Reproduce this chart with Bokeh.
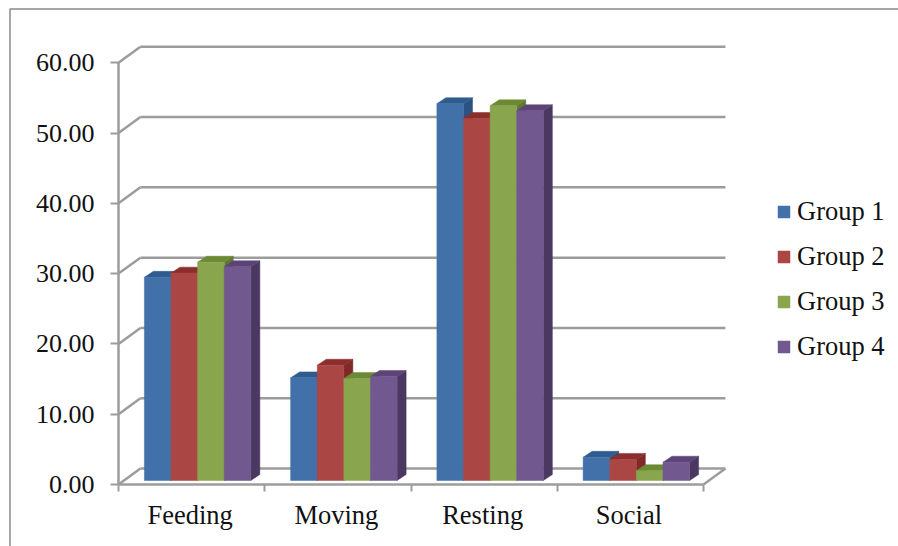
from bokeh.plotting import figure
from bokeh.models import Range1d, FixedTicker, NumeralTickFormatter, Legend, LegendItem
from bokeh.embed import file_html
from bokeh.resources import INLINE

categories = ["Feeding", "Moving", "Resting", "Social"]
group_names = ["Group 1", "Group 2", "Group 3", "Group 4"]
group_1 = [28.9, 14.6, 53.6, 3.3]
group_2 = [29.5, 16.4, 51.5, 3.0]
group_3 = [31.05, 14.5, 53.3, 1.4]
group_4 = [30.4, 14.8, 52.6, 2.6]
y_ticks = [0, 10, 20, 30, 40, 50, 60]

series = [group_1, group_2, group_3, group_4]
front = ["#4270A8", "#AA4643", "#89A54E", "#71588F"]
top = ["#2F5C8F", "#8C2F2C", "#6C8A34", "#5C4478"]
side = ["#2B5280", "#7F2A28", "#5F7A2E", "#4A3860"]
GREY = "#9C9C9C"
FONT = "Liberation Serif"

# projection of the chart's depth, in data units
WALL_DX, WALL_DY = 0.15, 2.27
BAR_DX, BAR_DY = 0.0615, 0.85
BASE_Y = 0.57
BAR_W = 0.182
FIRST = 0.177

W, H = 898, 546
ORIGIN_X, ORIGIN_Y = 118, 484   # where the axes cross, in page pixels
PX_X, PX_Y = 146.25, 7.03       # pixels per category / per unit
x_lo, x_hi = -ORIGIN_X / PX_X, (W - ORIGIN_X) / PX_X
y_lo, y_hi = (ORIGIN_Y - H) / PX_Y, ORIGIN_Y / PX_Y
p = figure(width=W, height=H, output_backend="svg", toolbar_location=None,
           x_range=Range1d(x_lo, x_hi), y_range=Range1d(y_lo, y_hi),
           min_border_left=0, min_border_right=0, min_border_top=0, min_border_bottom=0)
p.outline_line_color = None
p.grid.visible = False

# Outer frame of the picture (top and left only)
border_x = (9.5 - ORIGIN_X) / PX_X
border_y = (ORIGIN_Y - 8.5) / PX_Y
p.line(x=[border_x, border_x, x_hi], y=[y_lo, border_y, border_y],
       line_color="#8A8A8A", line_width=1.5)

# Axes
p.yaxis.fixed_location = 0
p.yaxis.ticker = FixedTicker(ticks=y_ticks)
p.yaxis.formatter = NumeralTickFormatter(format="0.00")
p.yaxis.bounds = (0, 60)
p.yaxis.major_label_text_font = FONT
p.yaxis.major_label_text_font_size = "26px"
p.yaxis.major_label_text_color = "#111111"
p.yaxis.major_label_standoff = 16
p.yaxis.major_tick_in = 0
p.yaxis.major_tick_out = 8
p.yaxis.major_tick_line_color = GREY
p.yaxis.major_tick_line_width = 2
p.yaxis.minor_tick_line_color = None
p.yaxis.axis_line_color = GREY
p.yaxis.axis_line_width = 2.5

centres = [i + 0.49 for i in range(len(categories))]
edges = list(range(len(categories) + 1))
p.xaxis.fixed_location = 0
p.xaxis.ticker = FixedTicker(ticks=centres, minor_ticks=edges)
p.xaxis.major_label_overrides = {c: n for c, n in zip(centres, categories)}
p.xaxis.major_label_text_font = FONT
p.xaxis.major_label_text_font_size = "26.5px"
p.xaxis.major_label_text_color = "#111111"
p.xaxis.major_label_standoff = 8
p.xaxis.major_tick_line_color = None
p.xaxis.minor_tick_in = 0
p.xaxis.minor_tick_out = 7
p.xaxis.minor_tick_line_color = GREY
p.xaxis.minor_tick_line_width = 2
p.xaxis.axis_line_color = GREY
p.xaxis.axis_line_width = 2.5
p.xaxis.bounds = (0, len(categories))

# Back wall, side wall and floor
n = len(categories)
p.segment(x0=[WALL_DX] * len(y_ticks), x1=[n + WALL_DX] * len(y_ticks),
          y0=[t + WALL_DY for t in y_ticks], y1=[t + WALL_DY for t in y_ticks],
          line_color=GREY, line_width=2.5)
p.segment(x0=[0] * len(y_ticks), x1=[WALL_DX] * len(y_ticks),
          y0=y_ticks, y1=[t + WALL_DY for t in y_ticks],
          line_color=GREY, line_width=2.5)
p.segment(x0=[n], x1=[n + WALL_DX], y0=[0], y1=[WALL_DY], line_color=GREY, line_width=2.5)

# Bars, painted left to right so each front face covers its neighbour's side
legend_items = []
for s, (vals, name) in enumerate(zip(series, group_names)):
    lefts = [i + FIRST + s * BAR_W for i in range(n)]
    rights = [l + BAR_W for l in lefts]
    tops = [BASE_Y + v for v in vals]
    p.patches(xs=[[r, r + BAR_DX, r + BAR_DX, r] for r in rights],
              ys=[[BASE_Y, BASE_Y + BAR_DY, t + BAR_DY, t] for t in tops],
              fill_color=side[s], line_color=side[s], line_width=0.5)
    p.patches(xs=[[l, l + BAR_DX, r + BAR_DX, r] for l, r in zip(lefts, rights)],
              ys=[[t, t + BAR_DY, t + BAR_DY, t] for t in tops],
              fill_color=top[s], line_color=top[s], line_width=0.5)
    f = p.quad(left=lefts, right=rights, bottom=[BASE_Y] * n, top=tops,
               fill_color=front[s], line_color=front[s], line_width=0.5)
    legend_items.append(LegendItem(label=name, renderers=[f]))

legend = Legend(items=legend_items, location=(776, 184), orientation="vertical",
                background_fill_alpha=0, border_line_color=None,
                glyph_width=15, glyph_height=15, label_standoff=6,
                label_text_font=FONT, label_text_font_size="26.5px", label_text_color="#111111",
                label_height=30, spacing=14, padding=0, margin=0)
p.add_layout(legend)

open("out.html", "w").write(file_html(p, INLINE))
